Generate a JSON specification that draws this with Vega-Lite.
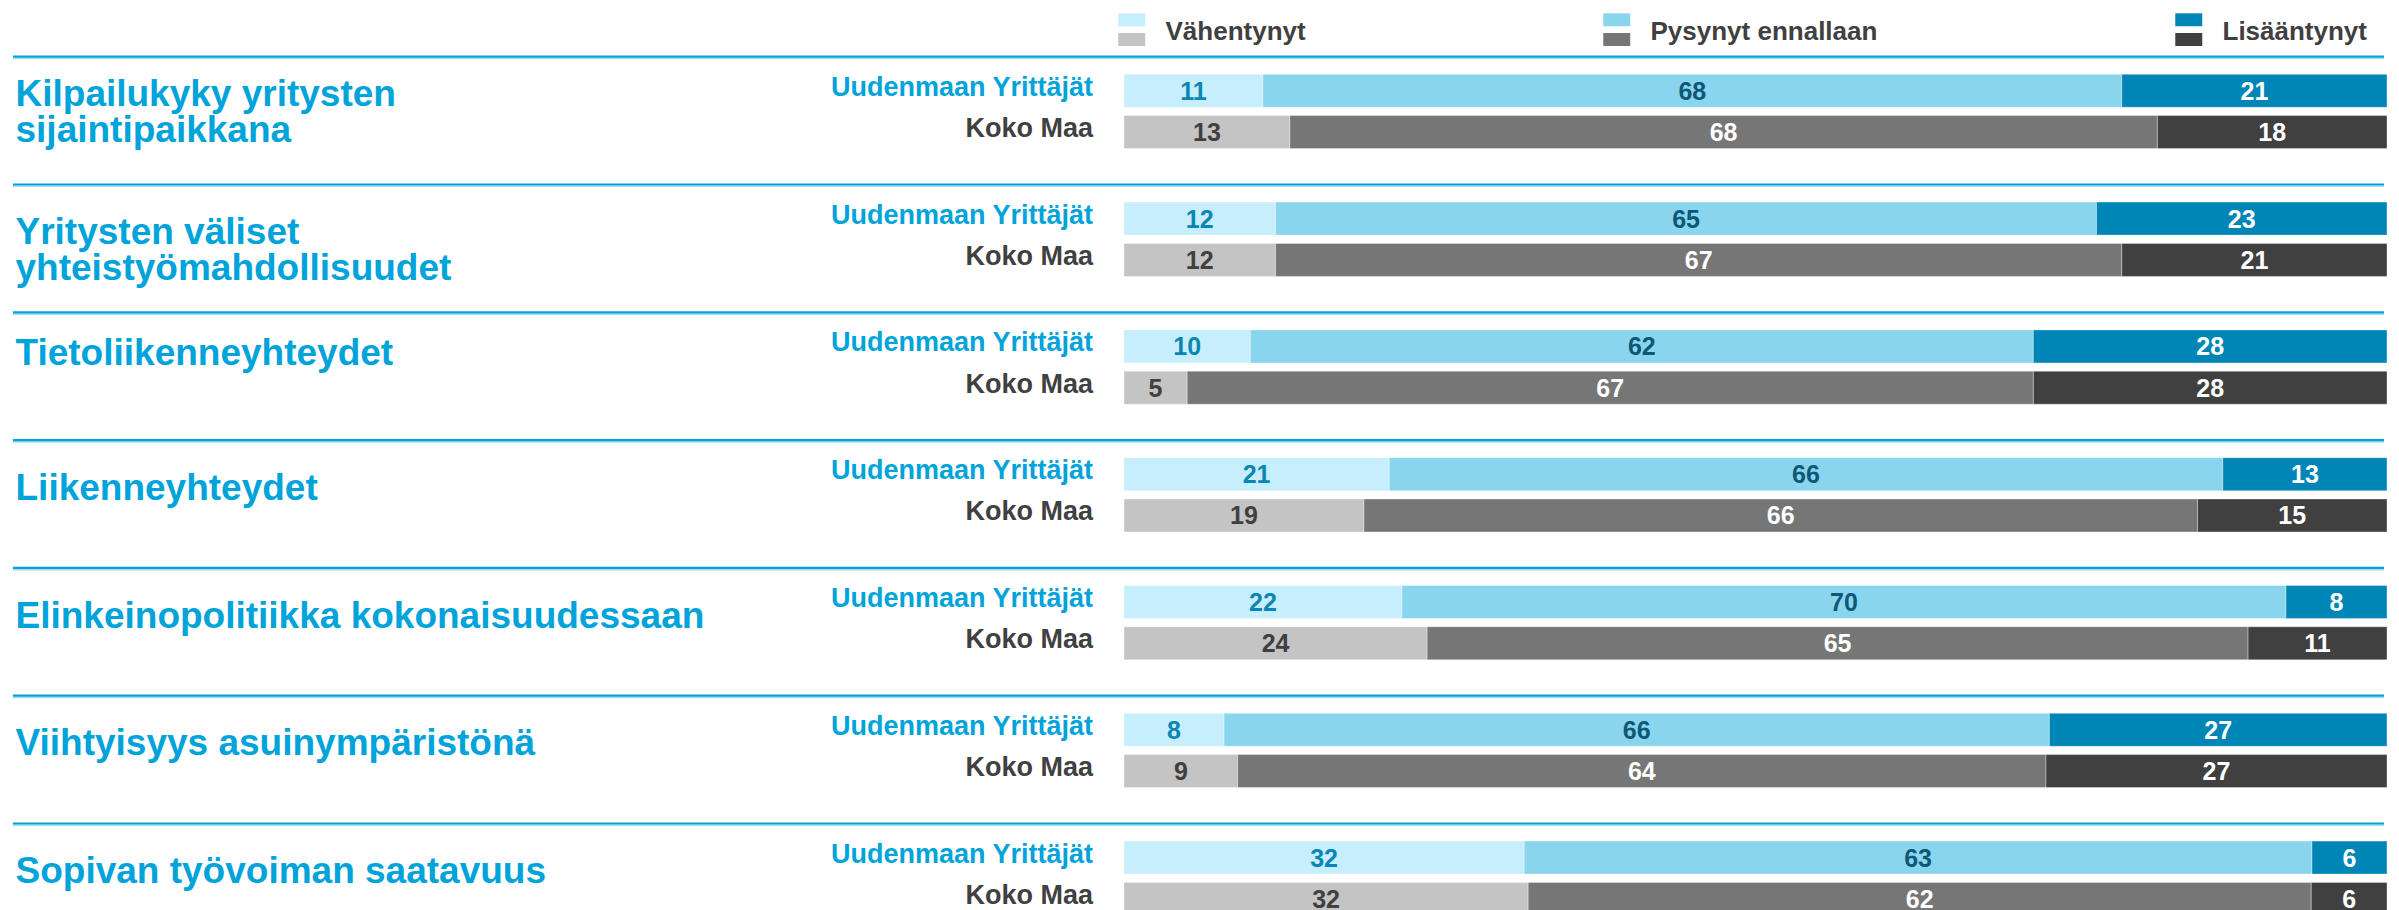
{
  "$schema": "https://vega.github.io/schema/vega-lite/v6.json",
  "autosize": {"type": "none"},
  "padding": {"left": 1124, "top": 74.3, "right": 12, "bottom": 0},
  "width": 1263,
  "height": 835.7,
  "background": "#ffffff",
  "config": {
    "view": {"stroke": null},
    "font": "Liberation Sans",
    "text": {"font": "Liberation Sans"}
  },
  "data": {
    "values": [
      {"category": "Kilpailukyky yritysten sijaintipaikkana", "group": "Uudenmaan Yrittäjät", "answer": "Vähentynyt", "pct": 11},
      {"category": "Kilpailukyky yritysten sijaintipaikkana", "group": "Uudenmaan Yrittäjät", "answer": "Pysynyt ennallaan", "pct": 68},
      {"category": "Kilpailukyky yritysten sijaintipaikkana", "group": "Uudenmaan Yrittäjät", "answer": "Lisääntynyt", "pct": 21},
      {"category": "Kilpailukyky yritysten sijaintipaikkana", "group": "Koko Maa", "answer": "Vähentynyt", "pct": 13},
      {"category": "Kilpailukyky yritysten sijaintipaikkana", "group": "Koko Maa", "answer": "Pysynyt ennallaan", "pct": 68},
      {"category": "Kilpailukyky yritysten sijaintipaikkana", "group": "Koko Maa", "answer": "Lisääntynyt", "pct": 18},
      {"category": "Yritysten väliset yhteistyömahdollisuudet", "group": "Uudenmaan Yrittäjät", "answer": "Vähentynyt", "pct": 12},
      {"category": "Yritysten väliset yhteistyömahdollisuudet", "group": "Uudenmaan Yrittäjät", "answer": "Pysynyt ennallaan", "pct": 65},
      {"category": "Yritysten väliset yhteistyömahdollisuudet", "group": "Uudenmaan Yrittäjät", "answer": "Lisääntynyt", "pct": 23},
      {"category": "Yritysten väliset yhteistyömahdollisuudet", "group": "Koko Maa", "answer": "Vähentynyt", "pct": 12},
      {"category": "Yritysten väliset yhteistyömahdollisuudet", "group": "Koko Maa", "answer": "Pysynyt ennallaan", "pct": 67},
      {"category": "Yritysten väliset yhteistyömahdollisuudet", "group": "Koko Maa", "answer": "Lisääntynyt", "pct": 21},
      {"category": "Tietoliikenneyhteydet", "group": "Uudenmaan Yrittäjät", "answer": "Vähentynyt", "pct": 10},
      {"category": "Tietoliikenneyhteydet", "group": "Uudenmaan Yrittäjät", "answer": "Pysynyt ennallaan", "pct": 62},
      {"category": "Tietoliikenneyhteydet", "group": "Uudenmaan Yrittäjät", "answer": "Lisääntynyt", "pct": 28},
      {"category": "Tietoliikenneyhteydet", "group": "Koko Maa", "answer": "Vähentynyt", "pct": 5},
      {"category": "Tietoliikenneyhteydet", "group": "Koko Maa", "answer": "Pysynyt ennallaan", "pct": 67},
      {"category": "Tietoliikenneyhteydet", "group": "Koko Maa", "answer": "Lisääntynyt", "pct": 28},
      {"category": "Liikenneyhteydet", "group": "Uudenmaan Yrittäjät", "answer": "Vähentynyt", "pct": 21},
      {"category": "Liikenneyhteydet", "group": "Uudenmaan Yrittäjät", "answer": "Pysynyt ennallaan", "pct": 66},
      {"category": "Liikenneyhteydet", "group": "Uudenmaan Yrittäjät", "answer": "Lisääntynyt", "pct": 13},
      {"category": "Liikenneyhteydet", "group": "Koko Maa", "answer": "Vähentynyt", "pct": 19},
      {"category": "Liikenneyhteydet", "group": "Koko Maa", "answer": "Pysynyt ennallaan", "pct": 66},
      {"category": "Liikenneyhteydet", "group": "Koko Maa", "answer": "Lisääntynyt", "pct": 15},
      {"category": "Elinkeinopolitiikka kokonaisuudessaan", "group": "Uudenmaan Yrittäjät", "answer": "Vähentynyt", "pct": 22},
      {"category": "Elinkeinopolitiikka kokonaisuudessaan", "group": "Uudenmaan Yrittäjät", "answer": "Pysynyt ennallaan", "pct": 70},
      {"category": "Elinkeinopolitiikka kokonaisuudessaan", "group": "Uudenmaan Yrittäjät", "answer": "Lisääntynyt", "pct": 8},
      {"category": "Elinkeinopolitiikka kokonaisuudessaan", "group": "Koko Maa", "answer": "Vähentynyt", "pct": 24},
      {"category": "Elinkeinopolitiikka kokonaisuudessaan", "group": "Koko Maa", "answer": "Pysynyt ennallaan", "pct": 65},
      {"category": "Elinkeinopolitiikka kokonaisuudessaan", "group": "Koko Maa", "answer": "Lisääntynyt", "pct": 11},
      {"category": "Viihtyisyys asuinympäristönä", "group": "Uudenmaan Yrittäjät", "answer": "Vähentynyt", "pct": 8},
      {"category": "Viihtyisyys asuinympäristönä", "group": "Uudenmaan Yrittäjät", "answer": "Pysynyt ennallaan", "pct": 66},
      {"category": "Viihtyisyys asuinympäristönä", "group": "Uudenmaan Yrittäjät", "answer": "Lisääntynyt", "pct": 27},
      {"category": "Viihtyisyys asuinympäristönä", "group": "Koko Maa", "answer": "Vähentynyt", "pct": 9},
      {"category": "Viihtyisyys asuinympäristönä", "group": "Koko Maa", "answer": "Pysynyt ennallaan", "pct": 64},
      {"category": "Viihtyisyys asuinympäristönä", "group": "Koko Maa", "answer": "Lisääntynyt", "pct": 27},
      {"category": "Sopivan työvoiman saatavuus", "group": "Uudenmaan Yrittäjät", "answer": "Vähentynyt", "pct": 32},
      {"category": "Sopivan työvoiman saatavuus", "group": "Uudenmaan Yrittäjät", "answer": "Pysynyt ennallaan", "pct": 63},
      {"category": "Sopivan työvoiman saatavuus", "group": "Uudenmaan Yrittäjät", "answer": "Lisääntynyt", "pct": 6},
      {"category": "Sopivan työvoiman saatavuus", "group": "Koko Maa", "answer": "Vähentynyt", "pct": 32},
      {"category": "Sopivan työvoiman saatavuus", "group": "Koko Maa", "answer": "Pysynyt ennallaan", "pct": 62},
      {"category": "Sopivan työvoiman saatavuus", "group": "Koko Maa", "answer": "Lisääntynyt", "pct": 6}
    ]
  },
  "transform": [
    {"calculate": "datum.group + ': ' + datum.answer", "as": "key"},
    {"stack": "pct", "groupby": ["category", "group"], "sort": [{"field": "answer", "order": "descending"}], "offset": "normalize", "as": ["v0", "v1"]},
    {"calculate": "(datum.v0 + datum.v1) / 2", "as": "mid"}
  ],
  "encoding": {
    "y": {
      "field": "category",
      "type": "nominal",
      "sort": null,
      "scale": {
        "domain": ["Kilpailukyky yritysten sijaintipaikkana", "Yritysten väliset yhteistyömahdollisuudet", "Tietoliikenneyhteydet", "Liikenneyhteydet", "Elinkeinopolitiikka kokonaisuudessaan", "Viihtyisyys asuinympäristönä", "Sopivan työvoiman saatavuus"],
        "range": [0, 841.1],
        "paddingInner": 0.4186,
        "paddingOuter": 0
      },
      "axis": {
        "title": null,
        "domain": false,
        "ticks": false,
        "tickSize": 0,
        "labelPadding": 1109,
        "labelAlign": "left",
        "labelBaseline": "middle",
        "labelFont": "Liberation Sans",
        "labelFontSize": 37,
        "labelFontWeight": "bold",
        "labelColor": "#00a3da",
        "labelLimit": 1100,
        "labelLineHeight": 36,
        "labelOverlap": false,
        "labelExpr": "datum.label == 'Kilpailukyky yritysten sijaintipaikkana' ? ['Kilpailukyky yritysten', 'sijaintipaikkana'] : datum.label == 'Yritysten väliset yhteistyömahdollisuudet' ? ['Yritysten väliset', 'yhteistyömahdollisuudet'] : datum.label",
        "labelOffset": {
          "condition": [
            {"test": "datum.value == 'Kilpailukyky yritysten sijaintipaikkana'", "value": -16},
            {"test": "datum.value == 'Yritysten väliset yhteistyömahdollisuudet'", "value": -6},
            {"test": "datum.value == 'Tietoliikenneyhteydet'", "value": -13}
          ],
          "value": -6
        }
      }
    }
  },
  "layer": [
    {
      "transform": [{"aggregate": [{"op": "count", "as": "n"}], "groupby": ["category"]}],
      "mark": {"type": "rule", "color": "#a6ddf0", "strokeWidth": 1.6, "yOffset": -15.8},
      "encoding": {
        "y": {"field": "category", "type": "nominal", "bandPosition": 0},
        "x": {"datum": -0.8797, "type": "quantitative", "scale": {"domain": [0, 1], "nice": false, "zero": true}, "axis": null},
        "x2": {"datum": 0.9976}
      }
    },
    {
      "transform": [{"aggregate": [{"op": "count", "as": "n"}], "groupby": ["category"]}],
      "mark": {"type": "rule", "color": "#00a2da", "strokeWidth": 2.2, "yOffset": -17.6},
      "encoding": {
        "y": {"field": "category", "type": "nominal", "bandPosition": 0},
        "x": {"datum": -0.8797, "type": "quantitative"},
        "x2": {"datum": 0.9976}
      }
    },
    {
      "mark": {"type": "bar", "stroke": "#ffffff", "strokeWidth": 1, "strokeOpacity": 0.35},
      "encoding": {
        "x": {"field": "v0", "type": "quantitative"},
        "x2": {"field": "v1"},
        "yOffset": {"field": "group", "type": "nominal", "sort": null, "scale": {"domain": ["Uudenmaan Yrittäjät", "Koko Maa"], "paddingInner": 0.2, "paddingOuter": 0}},
        "color": {
          "field": "key",
          "type": "nominal",
          "scale": {
            "domain": ["Uudenmaan Yrittäjät: Vähentynyt", "Uudenmaan Yrittäjät: Pysynyt ennallaan", "Uudenmaan Yrittäjät: Lisääntynyt", "Koko Maa: Vähentynyt", "Koko Maa: Pysynyt ennallaan", "Koko Maa: Lisääntynyt"],
            "range": ["#c6eefc", "#8ad5ee", "#0086b6", "#c4c4c4", "#767676", "#404040"]
          },
          "legend": {
            "orient": "none",
            "legendX": -5.25,
            "legendY": -67.8,
            "direction": "horizontal",
            "columns": 3,
            "gridAlign": "each",
            "columnPadding": 297,
            "rowPadding": -10,
            "padding": 0,
            "title": null,
            "symbolType": "M-2,-0.96H2V0.96H-2Z",
            "symbolSize": 182,
            "symbolStrokeWidth": 0,
            "symbolOpacity": 1,
            "labelOffset": 20.75,
            "labelFont": "Liberation Sans",
            "labelFontSize": 26,
            "labelFontWeight": "bold",
            "labelColor": "#404040",
            "labelBaseline": "alphabetic",
            "labelLimit": 400,
            "labelExpr": "indexof(datum.label, 'Koko Maa') == 0 ? replace(datum.label, 'Koko Maa: ', '') : ''"
          }
        }
      }
    },
    {
      "mark": {"type": "text", "font": "Liberation Sans", "fontSize": 25, "fontWeight": "bold", "baseline": "alphabetic", "dy": 9, "align": "center"},
      "encoding": {
        "x": {"field": "mid", "type": "quantitative"},
        "yOffset": {"field": "group", "type": "nominal", "sort": null},
        "text": {"field": "pct", "type": "quantitative"},
        "color": {
          "condition": [
            {"test": "datum.answer == 'Lisääntynyt' || (datum.group == 'Koko Maa' && datum.answer == 'Pysynyt ennallaan')", "value": "#ffffff"},
            {"test": "datum.group == 'Koko Maa'", "value": "#404040"},
            {"test": "datum.answer == 'Pysynyt ennallaan'", "value": "#0d5877"}
          ],
          "value": "#0a86b6"
        }
      }
    },
    {
      "transform": [{"aggregate": [{"op": "count", "as": "n"}], "groupby": ["category", "group"]}],
      "mark": {"type": "text", "font": "Liberation Sans", "fontSize": 27, "fontWeight": "bold", "baseline": "alphabetic", "dy": 5, "dx": -31, "align": "right"},
      "encoding": {
        "x": {"datum": 0, "type": "quantitative"},
        "yOffset": {"field": "group", "type": "nominal", "sort": null},
        "text": {"field": "group", "type": "nominal"},
        "color": {
          "condition": {"test": "datum.group == 'Uudenmaan Yrittäjät'", "value": "#00a3da"},
          "value": "#404040"
        }
      }
    }
  ]
}
